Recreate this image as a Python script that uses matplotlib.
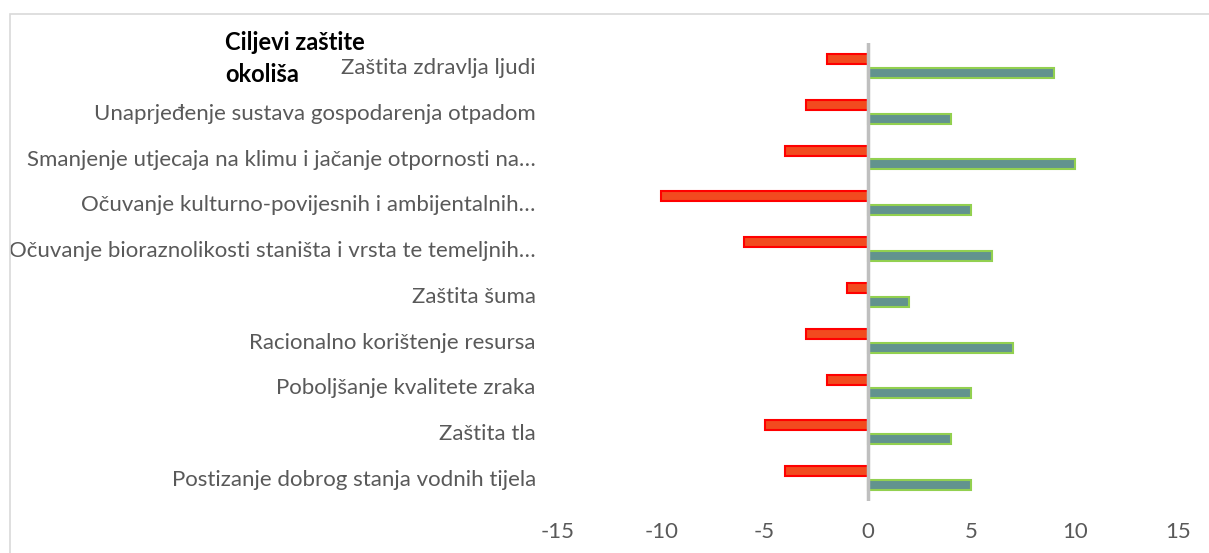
import matplotlib
matplotlib.use("Agg")
import matplotlib.pyplot as plt
import numpy as np
from matplotlib.patches import Rectangle

categories = [
    "Zaštita zdravlja ljudi",
    "Unaprjeđenje sustava gospodarenja otpadom",
    "Smanjenje utjecaja na klimu i jačanje otpornosti na…",
    "Očuvanje kulturno-povijesnih i ambijentalnih…",
    "Očuvanje bioraznolikosti staništa i vrsta te temeljnih…",
    "Zaštita šuma",
    "Racionalno korištenje resursa",
    "Poboljšanje kvalitete zraka",
    "Zaštita tla",
    "Postizanje dobrog stanja vodnih tijela",
]
negative = [-2, -3, -4, -10, -6, -1, -3, -2, -5, -4]
positive = [9, 4, 10, 5, 6, 2, 7, 5, 4, 5]
xticks = [-15, -10, -5, 0, 5, 10, 15]
title_lines = ["Ciljevi zaštite", "okoliša"]

plt.rcParams['font.family'] = ['Lato', 'DejaVu Sans']

W, H = 1209, 553
fig = plt.figure(figsize=(W/100, H/100), dpi=100)
fig.patches.append(Rectangle((10/W, -0.1), 1.2, 1 - 14/H + 0.1, transform=fig.transFigure,
                             fill=False, edgecolor='#D9D9D9', lw=1.2))

ax = fig.add_axes([558/W, 1 - 501/H, 620/W, 458/H])
y = np.arange(len(categories))
h = 0.22
off = 0.15
ax.barh(y - off, negative, height=h, color='#F24B1F', edgecolor='#FF0000', linewidth=1.5, zorder=2)
ax.barh(y + off, positive, height=h, color='#62938E', edgecolor='#92D050', linewidth=1.5, zorder=2)
ax.axvline(0, color='#BFBFBF', lw=2.5, zorder=3)

ax.set_xlim(-15, 15)
ax.set_ylim(len(categories) - 0.5, -0.5)
ax.set_xticks(xticks)
ax.set_xticklabels([str(v) for v in xticks])
ax.set_yticks(y)
ax.set_yticklabels(categories)
for s in ax.spines.values():
    s.set_visible(False)
ax.tick_params(axis='both', length=0, colors='#595959', labelsize=16)
ax.tick_params(axis='y', pad=16)
ax.tick_params(axis='x', pad=15)

for line, yc in zip(title_lines, [43, 75]):
    fig.text(225/W, 1 - yc/H, line, fontsize=17, fontweight='bold', color='black',
             va='center', ha='left')

fig.savefig("out.png", dpi=100)
